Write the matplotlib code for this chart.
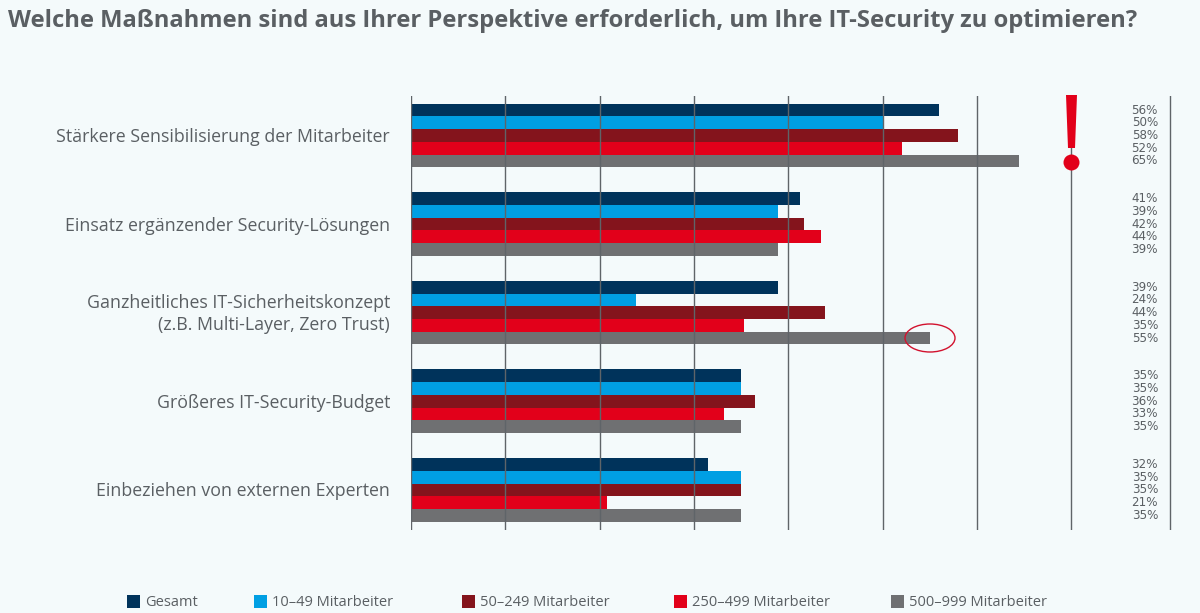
import matplotlib
matplotlib.use('Agg')
import matplotlib.pyplot as plt
from matplotlib.patches import Ellipse, Polygon, Rectangle

W, H = 1200, 613
BG = '#f4fafb'
TXT = '#5a5f63'

# Data
categories = ['Stärkere Sensibilisierung der Mitarbeiter',
              'Einsatz ergänzender Security-Lösungen',
              'Ganzheitliches IT-Sicherheitskonzept\n(z.B. Multi-Layer, Zero Trust)',
              'Größeres IT-Security-Budget',
              'Einbeziehen von externen Experten']
groups = ['Gesamt', '10–49 Mitarbeiter', '50–249 Mitarbeiter', '250–499 Mitarbeiter', '500–999 Mitarbeiter']
colors = ['#00335b', '#009fe3', '#84141c', '#e2001a', '#6f7072']

gesamt = [56, 41.2, 38.9, 35, 31.5]
m10_49 = [50, 38.9, 23.9, 35, 35]
m50_249 = [58, 41.7, 43.9, 36.5, 35]
m250_499 = [52.1, 43.5, 35.3, 33.2, 20.8]
m500_999 = [64.5, 38.9, 55, 35, 35]
series = [gesamt, m10_49, m50_249, m250_499, m500_999]

pct_labels = [['56%', '50%', '58%', '52%', '65%'],
              ['41%', '39%', '42%', '44%', '39%'],
              ['39%', '24%', '44%', '35%', '55%'],
              ['35%', '35%', '36%', '33%', '35%'],
              ['32%', '35%', '35%', '21%', '35%']]
grid_vals = [0, 10, 20, 30, 40, 50, 60, 70, 80.5]

fig = plt.figure(figsize=(W / 100, H / 100), dpi=100, facecolor=BG)
# axes covers the gridline area, 10% = 94.3 px
ax = fig.add_axes([411 / W, 1 - 530 / H, 94.3 * 8.5 / W, (530 - 96) / H])
ax.set_facecolor('none')
ax.set_xlim(0, 85)
ax.set_ylim(4.453, -0.446)
ax.axis('off')

bar_h = 0.1435
for j, vals in enumerate(series):
    pos = [i + (j - 2) * bar_h for i in range(len(categories))]
    ax.barh(pos, vals, height=bar_h, color=colors[j], zorder=2)
    for p, row in zip(pos, pct_labels):
        ax.annotate(row[j], (1158 / W, p), xycoords=('figure fraction', 'data'),
                    ha='right', va='center', fontsize=8.6, family='DejaVu Sans', color=TXT)

for g in grid_vals:
    ax.axvline(g, color='#5f6468', lw=1.0, zorder=3)

for i, c in enumerate(categories):
    ax.annotate(c, (390 / W, i), xycoords=('figure fraction', 'data'), xytext=(0, -1.1),
                textcoords='offset points', ha='right', va='center', fontsize=12.8,
                family='Open Sans', color=TXT, linespacing=1.25)


# Pixel helper for the decoration
def px(x, y):
    return x / W, 1 - y / H


fig.text(*px(8, 21), 'Welche Maßnahmen sind aus Ihrer Perspektive erforderlich, um Ihre IT-Security zu optimieren?',
         fontsize=17.15, fontweight='bold', family='Open Sans', color=TXT, va='center', ha='left')

# Exclamation mark
fig.add_artist(Polygon([px(1066, 95), px(1077, 95), px(1075, 148), px(1068, 148)],
                       closed=True, transform=fig.transFigure, fc='#e2001a', ec='none', zorder=5))
fig.add_artist(Ellipse(px(1071.5, 162.5), 16 / W, 16 / H, transform=fig.transFigure,
                       fc='#e2001a', ec='none', zorder=5))
# Highlight ring
fig.add_artist(Ellipse(px(930, 338), 50 / W, 28 / H, transform=fig.transFigure,
                       fc='none', ec='#d2122e', lw=1, zorder=5))

# Legend
leg_x = [127, 254, 462, 674, 891]
for x, g, col in zip(leg_x, groups, colors):
    fig.add_artist(Rectangle(px(x, 608), 13 / W, 13 / H, transform=fig.transFigure, fc=col, ec='none'))
    fig.text(*px(x + 18, 602.5), g, fontsize=10.55, family='Open Sans', color=TXT, va='center', ha='left')

fig.savefig('out.png', dpi=100, facecolor=BG)
